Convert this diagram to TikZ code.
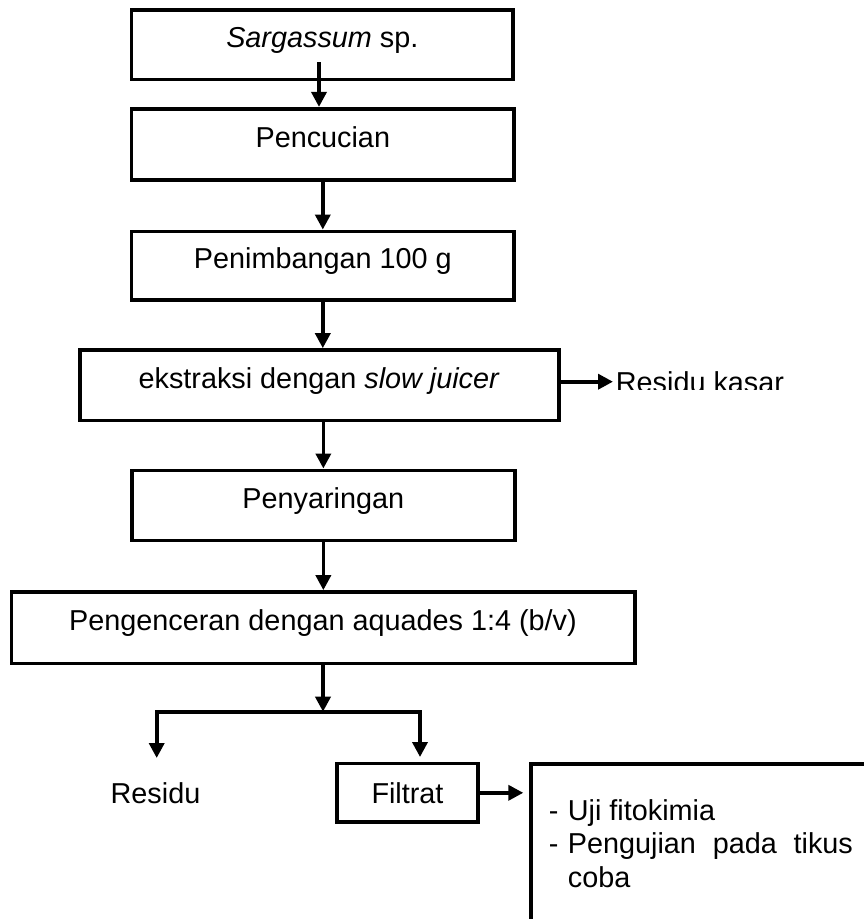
\documentclass[tikz,border=0pt]{standalone}
\usepackage{fontspec}
\setmainfont{Liberation Sans}
\usetikzlibrary{arrows.meta}
\tikzset{
  box/.style={draw, line width=3.6pt, inner sep=0pt, text height=16pt, text depth=10pt, font=\fs},
  txt/.style={inner sep=0pt, font=\fs},
  arr/.style={line width=3.6pt, -{Triangle[length=15pt,width=15pt]}},
  arrtwo/.style={line width=3.6pt, {Triangle[length=15pt,width=15pt]}-{Triangle[length=15pt,width=15pt]}},
}
\newcommand{\fs}{\fontsize{28.8pt}{33.5pt}\selectfont}
\begin{document}
\begin{tikzpicture}[x=1pt,y=-1pt]
\useasboundingbox (0,0) rectangle (864,919);
\node[box, minimum width=381.3pt, minimum height=69.3pt] (b1) at (322.3,44.7) {\textit{Sargassum} sp.};
\node[box, minimum width=382.3pt, minimum height=71pt] (b2) at (322.8,144.2) {Pencucian};
\node[box, minimum width=382.3pt, minimum height=68.7pt] (b3) at (322.8,265.7) {Penimbangan 100 g};
\node[box, minimum width=479pt, minimum height=70.5pt] (b4) at (319.2,385.2) {ekstraksi dengan \textit{slow juicer}};
\node[box, minimum width=383.3pt, minimum height=70pt] (b5) at (323.35,505.3) {Penyaringan};
\node[box, minimum width=623.4pt, minimum height=71.7pt] (b6) at (323,627.8) {Pengenceran dengan aquades 1:4 (b/v)};
\node[box, minimum width=141pt, minimum height=58.3pt, text height=20.4pt, text depth=0pt] (filtrat) at (407.5,792.8) {Filtrat};
\node[draw, line width=3.6pt, inner sep=0pt, anchor=north west, minimum width=500pt, minimum height=300pt] (big) at (529.3,762) {};
% texts
\node[txt, anchor=base] (residu) at (155.5,803) {Residu};
\begin{scope}
\clip (560,340) rectangle (864,389.5);
\node[txt, anchor=base west] (kasar) at (615.7,392) {Residu kasar};
\end{scope}
\node[txt, anchor=base west] (h1) at (548.7,820) {-};
\node[txt, anchor=base west] (l1) at (567.7,820) {Uji fitokimia};
\node[txt, anchor=base west] (h2) at (548.7,853.5) {-};
\node[txt, anchor=base west] (l2) at (567.7,853.5) {\makebox[285pt][s]{Pengujian pada tikus}};
\node[txt, anchor=base west] (l3) at (567.7,887) {coba};
% connectors
\coordinate (s1) at (319,62);
\coordinate (split) at (323,711.7);
\coordinate (lt) at (156.7,758);
\coordinate (rt) at (420,757);
\draw[arr] (s1) -- (s1 |- b2.north);
\draw[arr] (b2.south) -- (b2.south |- b3.north);
\draw[arr] (b3.south) -- (b3.south |- b4.north);
\draw[arr] (b5.north |- b4.south) -- (b5.north);
\draw[arr] (b5.south) -- (b5.south |- b6.north);
\draw[arr] ([yshift=3.5pt]b4.east) -- ([yshift=3.5pt]b4.east -| kasar.west) [shorten >=2.7pt];
\draw[arr] (b6.south |- b6.south) -- (split);
\draw[arrtwo] (lt) -- (lt |- split) -- (rt |- split) -- (rt);
\draw[arr, shorten >=6pt] (filtrat.east) -- (filtrat.east -| big.west);
\end{tikzpicture}
\end{document}
